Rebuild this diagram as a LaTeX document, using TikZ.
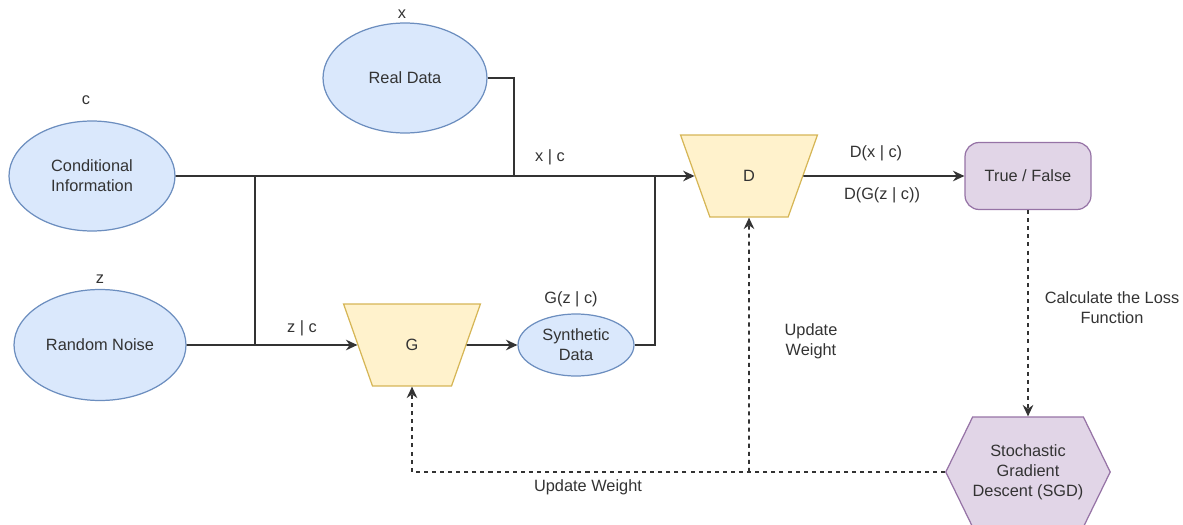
\documentclass[tikz,border=0pt]{standalone}
\usepackage{fontspec}
\setmainfont{Liberation Sans}
\usetikzlibrary{shapes.geometric,shapes.symbols,arrows.meta}
\definecolor{bluefill}{HTML}{DAE8FC}
\definecolor{bluedraw}{HTML}{6C8EBF}
\definecolor{yellowfill}{HTML}{FFF2CC}
\definecolor{yellowdraw}{HTML}{D6B656}
\definecolor{purplefill}{HTML}{E1D5E7}
\definecolor{purpledraw}{HTML}{9673A6}
\definecolor{ink}{HTML}{333333}
\begin{document}
\begin{tikzpicture}[x=0.02cm, y=-0.02cm,
	font=\fontsize{9.3pt}{11.4pt}\selectfont, text=ink,
	data/.style={ellipse, draw=bluedraw, fill=bluefill, line width=0.7pt, inner sep=0pt, align=center},
	net/.style={trapezium, trapezium stretches=true, shape border rotate=180, trapezium left angle=69, trapezium right angle=69, draw=yellowdraw, fill=yellowfill, line width=0.7pt, minimum width=2.74cm, minimum height=1.64cm},
	link/.style={draw=ink, line width=0.9pt},
	flow/.style={link, -{Stealth[length=6.5pt, width=6pt]}},
	back/.style={flow, dash pattern=on 2.3pt off 2.3pt}]
	\useasboundingbox (0,0) rectangle (1183,524);
	\node[data, minimum width=3.28cm, minimum height=2.2cm] (real) at (405,78) {Real Data};
	\node[data, minimum width=3.32cm, minimum height=2.2cm] (cond) at (92,176) {Conditional\\Information};
	\node[data, minimum width=3.44cm, minimum height=2.22cm] (noise) at (100,345) {Random Noise};
	\node[data, minimum width=2.32cm, minimum height=1.24cm] (synth) at (576,345) {Synthetic\\Data};
	\node[net] (gen) at (412,345) {G};
	\node[net] (disc) at (749,176) {D};
	\node[rectangle, rounded corners=8pt, draw=purpledraw, fill=purplefill, line width=0.7pt, minimum width=2.52cm, minimum height=1.34cm] (out) at (1028,176) {True / False};
	\node[signal, signal to=west and east, signal pointer angle=128, draw=purpledraw, fill=purplefill, line width=0.7pt, inner xsep=0pt, minimum width=2.2cm, minimum height=2.2cm, align=center] (sgd) at (1028,472) {Stochastic\\Gradient\\Descent (SGD)};
	\node (xlab) at (402,14) {x};
	\node (clab) at (86,100) {c};
	\node (zlab) at (100,279) {z};
	\node (xc) at (550,157) {x | c};
	\node (zc) at (302,328) {z | c};
	\node (gzc) at (571,299) {G(z | c)};
	\node (dx) at (876,153) {D(x | c)};
	\node (dg) at (882,195) {D(G(z | c))};
	\node[align=center] (loss) at (1112,308) {Calculate the Loss\\Function};
	\node[align=center] (updd) at (811,341) {Update\\Weight};
	\node (updg) at (588,487) {Update Weight};
	\coordinate (jc) at (255,176);
	\coordinate (jr) at (514,176);
	\coordinate (js) at (655,176);
	\coordinate (jd) at (749,472);
	\draw[flow] (cond.east) -- (disc.west);
	\draw[link] (jc) -- (jc |- gen.west);
	\draw[flow] (noise.east) -- (gen.west);
	\draw[link] (real.east) -| (jr);
	\draw[flow] (gen.east) -- (synth.west);
	\draw[link] (synth.east) -| (js);
	\draw[flow] (disc.east) -- (out.west);
	\draw[back] (out.south) -- (sgd.north);
	\draw[back] (sgd.west) -| (gen.south);
	\draw[back] (jd) -- (disc.south);
\end{tikzpicture}
\end{document}
